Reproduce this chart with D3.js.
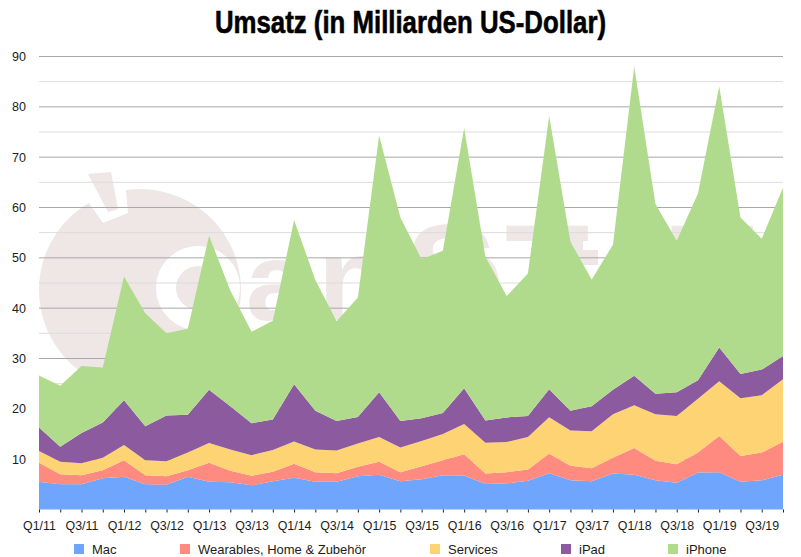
<!DOCTYPE html>
<html>
<head>
<meta charset="utf-8">
<script src="https://cdn.jsdelivr.net/npm/d3@7"></script>
<style>
html, body { margin: 0; padding: 0; background: #fff; }
svg { display: block; }
text { font-family: "Liberation Sans", Arial, sans-serif; fill: #1c1c1c; }
</style>
</head>
<body>
<svg id="chart" width="801" height="557"></svg>
<script>
'use strict'

const years = ['11', '12', '13', '14', '15', '16', '17', '18', '19']
const quarters = years.flatMap(y => ['Q1/' + y, 'Q2/' + y, 'Q3/' + y, 'Q4/' + y])

const mac = [5.5, 5.0, 5.0, 6.2, 6.5, 5.0, 4.9, 6.5, 5.5, 5.4, 4.8, 5.6, 6.3, 5.5, 5.5, 6.6, 6.9, 5.6, 6.0, 6.8, 6.75, 5.05, 5.2, 5.7, 7.2, 5.8, 5.6, 7.15, 6.9, 5.8, 5.3, 7.35, 7.4, 5.5, 5.8, 6.9]
const wearables = [3.8, 2.0, 1.8, 1.6, 3.3, 1.8, 1.7, 1.3, 3.8, 2.3, 1.9, 1.9, 2.8, 1.9, 1.7, 1.9, 2.6, 1.8, 2.6, 3.0, 4.25, 2.1, 2.2, 2.25, 3.9, 2.9, 2.6, 3.15, 5.3, 3.9, 3.7, 3.95, 7.2, 5.15, 5.5, 6.55]
const services = [2.3, 2.5, 2.4, 2.5, 3.0, 3.0, 3.0, 3.5, 3.9, 4.2, 4.1, 4.3, 4.4, 4.5, 4.5, 4.6, 4.9, 4.9, 5.0, 5.2, 6.0, 6.1, 6.0, 6.45, 7.25, 7.0, 7.35, 8.6, 8.5, 9.2, 9.6, 10.7, 10.9, 11.45, 11.4, 12.45]
const ipad = [4.7, 2.95, 6.0, 7.0, 8.9, 6.75, 9.1, 7.5, 10.6, 8.6, 6.35, 6.1, 11.4, 7.7, 5.9, 5.3, 8.9, 5.3, 4.55, 4.15, 7.1, 4.45, 4.9, 4.2, 5.55, 3.9, 4.95, 4.9, 5.85, 4.1, 4.7, 3.7, 6.7, 4.8, 5.1, 4.6]
const iphone = [10.3, 12.15, 13.3, 10.9, 24.6, 22.45, 16.3, 17.1, 30.6, 23, 18.15, 19.6, 32.6, 26, 19.8, 23.7, 51, 40.4, 31.55, 32.25, 51.7, 32.5, 24.1, 28.3, 54.3, 33.6, 25.2, 28.8, 61.45, 37.7, 30.1, 37.1, 51.9, 31.1, 26, 33.4]

const seriesNames = ['Mac', 'Wearables, Home & Zubehör', 'Services', 'iPad', 'iPhone']
const seriesValues = [mac, wearables, services, ipad, iphone]
const seriesColors = ['#6fa5fc', '#fe8a80', '#fed373', '#8c5a9e', '#b0db8c']
const legendX = [74, 180, 430, 561, 668]

const yTicks = [0, 5, 10, 15, 20, 25, 30, 35, 40, 45, 50, 55, 60, 65, 70, 75, 80, 85, 90]

const plotLeft = 39, plotRight = 783, plotTop = 56.5, plotBottom = 509.5

const svg = d3.select('#chart')

const x = d3.scalePoint().domain(quarters).range([plotLeft, plotRight])
const y = d3.scaleLinear().domain([0, 90]).range([plotBottom, plotTop])

const rows = quarters.map((q, i) => {
	const row = { quarter: q }
	seriesNames.forEach((name, s) => { row[name] = seriesValues[s][i] })
	return row
})
const stacked = d3.stack().keys(seriesNames)(rows)

// Watermark behind the grid
const mark = svg.append('g').attr('class', 'watermark')
const markColor = '#efe6e6'
mark.append('circle').attr('cx', 140).attr('cy', 290).attr('r', 101).attr('fill', markColor)
mark.append('polygon').attr('points', '84,196 103,223 128,213 125,180 90,180').attr('fill', '#fff')
mark.append('polygon').attr('points', '88,174 111,172 118,209 108,212').attr('fill', markColor)
mark.append('circle').attr('cx', 198).attr('cy', 288).attr('r', 32).attr('fill', 'none')
	.attr('stroke', '#fff').attr('stroke-width', 20)
const markLetters = [['a', 246, 320, 112], ['n', 318, 320, 118], ['S', 405, 320, 138], ['T', 505, 320, 138], ['T', 670, 320, 138]]
markLetters.forEach(d => {
	mark.append('text').text(d[0]).attr('x', d[1]).attr('y', d[2])
		.style('font-size', d[3] + 'px').style('font-weight', 'bold').style('fill', markColor)
})
mark.append('path').attr('d', 'M470,262 Q492,258 492,295').attr('fill', 'none')
	.attr('stroke', markColor).attr('stroke-width', 16)
mark.append('rect').attr('x', 570).attr('y', 250).attr('width', 28).attr('height', 15).attr('fill', markColor)
mark.append('rect').attr('x', 570).attr('y', 233).attr('width', 13).attr('height', 40).attr('fill', markColor)

// Grid
const grid = svg.append('g').attr('class', 'grid')
grid.selectAll('line').data(yTicks.filter(t => t > 0)).join('line')
	.attr('x1', plotLeft).attr('x2', plotRight)
	.attr('y1', d => y(d)).attr('y2', d => y(d))
	.attr('stroke', d => d % 10 === 0 ? '#a8a8a8' : '#dcdcdc')
	.attr('stroke-width', 1)

// Stacked areas
const area = d3.area()
	.x(d => x(d.data.quarter))
	.y0(d => y(d[0]))
	.y1(d => y(d[1]))

svg.append('g').selectAll('path').data(stacked).join('path')
	.attr('d', area)
	.attr('fill', (d, i) => seriesColors[i])

// Axes
const xAxis = d3.axisBottom(x)
	.tickSize(3)
	.tickPadding(9)
	.tickFormat((d, i) => i % 2 === 0 ? d : '')
const gx = svg.append('g').attr('transform', `translate(0,${plotBottom})`).call(xAxis)
gx.select('.domain').remove()
gx.selectAll('line').attr('stroke', '#222')
gx.selectAll('text').style('font-size', '12.4px')

const yAxis = d3.axisLeft(y)
	.tickValues(yTicks.filter(t => t > 0 && t % 10 === 0))
	.tickSize(0)
	.tickPadding(13)
const gy = svg.append('g').attr('transform', `translate(${plotLeft},0)`).call(yAxis)
gy.select('.domain').remove()
gy.selectAll('text').style('font-size', '12.5px')

// Legend
const legend = svg.append('g').selectAll('g').data(seriesNames).join('g')
	.attr('transform', (d, i) => `translate(${legendX[i]},544)`)
legend.append('rect').attr('width', 10).attr('height', 10).attr('fill', (d, i) => seriesColors[i])
legend.append('text').text(d => d).attr('x', 18).attr('y', 10).style('font-size', '13px')

// Title
svg.append('text').text('Umsatz (in Milliarden US-Dollar)')
	.attr('x', 215).attr('y', 33)
	.attr('textLength', 391).attr('lengthAdjust', 'spacingAndGlyphs')
	.style('font-family', '"Liberation Sans Narrow", "Liberation Sans", sans-serif')
	.style('font-size', '32px').style('font-weight', 'bold')
	.style('fill', '#000').style('stroke', '#000').style('stroke-width', 0.6)
</script>
</body>
</html>
